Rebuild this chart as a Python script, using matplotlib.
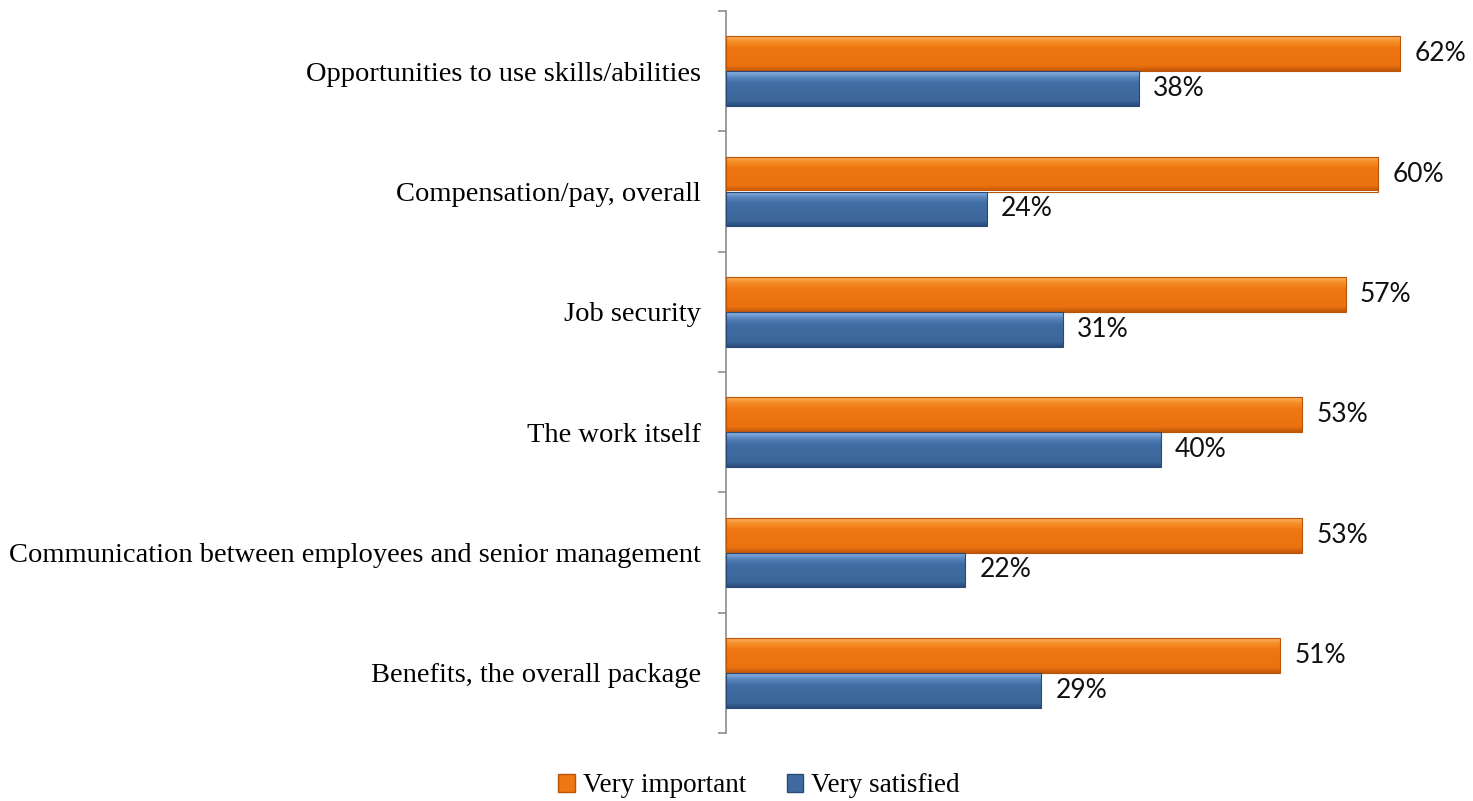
import numpy as np
import matplotlib.pyplot as plt
from matplotlib.colors import LinearSegmentedColormap

categories = [
    "Opportunities to use skills/abilities",
    "Compensation/pay, overall",
    "Job security",
    "The work itself",
    "Communication between employees and senior management",
    "Benefits, the overall package",
]
very_important = [62, 60, 57, 53, 53, 51]
very_satisfied = [38, 24, 31, 40, 22, 29]

orange = "#F07612"
blue = "#3E6A9F"
# top -> bottom shading, like the bevelled office bars
orange_grad = LinearSegmentedColormap.from_list(
    "og", [(0, "#FAAE5A"), (0.18, "#F58A22"), (0.35, "#F07612"), (0.85, "#EC7210"), (1, "#C25708")])
blue_grad = LinearSegmentedColormap.from_list(
    "bg", [(0, "#8DB6E8"), (0.18, "#5684BC"), (0.35, "#3F6CA2"), (0.85, "#3C679B"), (1, "#2A4C7C")])

fig = plt.figure(figsize=(14.73, 8.01), dpi=100)
ax = fig.add_axes([726 / 1473, 1 - 733 / 801, 1 - 726 / 1473, (733 - 11) / 801])

y = np.arange(len(categories))
h = 0.29
bars1 = ax.barh(y - h / 2, very_important, height=h, color=orange, edgecolor="#B85508", linewidth=0.8)
bars2 = ax.barh(y + h / 2, very_satisfied, height=h, color=blue, edgecolor="#2A4A75", linewidth=0.8)

ax.set_ylim(len(categories) - 0.5, -0.5)
ax.set_xlim(0, (1473 - 726) / (674 / 62))

grad = np.linspace(0, 1, 64).reshape(-1, 1)
for bars, cmap in ((bars1, orange_grad), (bars2, blue_grad)):
    for b in bars:
        x0, y0 = b.get_x(), b.get_y()
        w, hh = b.get_width(), b.get_height()
        im = ax.imshow(grad, aspect="auto", cmap=cmap, origin="upper",
                       extent=(x0, x0 + w, y0 + hh, y0), zorder=2)
        im.set_clip_path(b)
        b.set_zorder(3)
        b.set_facecolor("none")

for bars, vals in ((bars1, very_important), (bars2, very_satisfied)):
    for b, v in zip(bars, vals):
        ax.text(v + 1.3, b.get_y() + b.get_height() / 2, f"{v}%",
                va="center", ha="left", fontsize=19, family="Lato", color="#111111")

ax.set_yticks(y)
ax.set_yticklabels(categories, family="Liberation Serif", fontsize=20.5)
ax.set_yticks(np.arange(len(categories) + 1) - 0.5, minor=True)
ax.tick_params(axis="y", which="major", length=0, pad=18)
ax.tick_params(axis="y", which="minor", length=6, color="#8C8C8C", width=1.2)
ax.set_xticks([])
for s in ("top", "right", "bottom"):
    ax.spines[s].set_visible(False)
ax.spines["left"].set_color("#8C8C8C")
ax.spines["left"].set_linewidth(1.2)

handles = [plt.Rectangle((0, 0), 1, 1, facecolor=orange, edgecolor="#B85508"),
           plt.Rectangle((0, 0), 1, 1, facecolor=blue, edgecolor="#2A4A75")]
fig.legend(handles, ["Very important", "Very satisfied"], loc="center",
           bbox_to_anchor=(759 / 1473, 1 - 786 / 801), ncol=2, frameon=False,
           prop={"family": "Liberation Serif", "size": 19.5},
           handlelength=0.6, handleheight=0.6, handletextpad=0.3, columnspacing=1.5)

fig.savefig("out.png", dpi=100)
